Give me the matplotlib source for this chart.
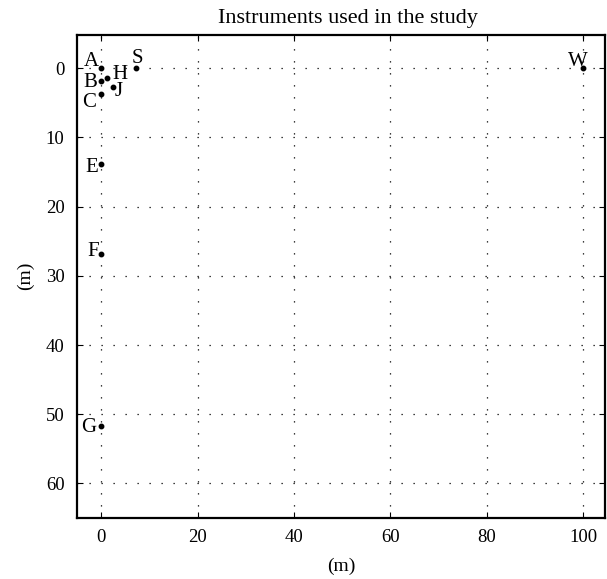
import matplotlib
matplotlib.use("Agg")
import matplotlib.pyplot as plt

plt.rcParams['font.family'] = ['Liberation Serif', 'DejaVu Serif']

names = ['A', 'B', 'C', 'H', 'J', 'S', 'E', 'F', 'G', 'W']
xs = [0, 0, 0, 1.3, 2.4, 7.3, 0, 0, 0, 100]
ys = [0, 1.9, 3.7, 1.45, 2.75, 0, 13.9, 26.8, 51.7, 0]
xticks = [0, 20, 40, 60, 80, 100]
yticks = [0, 10, 20, 30, 40, 50, 60]

# label placement: (dx px, dy px downward, ha)
offs = {
    'A': (-2.5, -8, 'right'),
    'B': (-4, 0, 'right'),
    'C': (-5, 7.5, 'right'),
    'H': (5, -5.5, 'left'),
    'J': (1.5, 3, 'left'),
    'S': (1, -11.5, 'center'),
    'E': (-2.5, 2, 'right'),
    'F': (-2.5, -4, 'right'),
    'G': (-5, 0, 'right'),
    'W': (-5, -8, 'center'),
}

W, H = 607, 579
fig = plt.figure(figsize=(W / 100, H / 100), dpi=100)
ax = fig.add_axes([77 / W, 1 - 518 / H, (605 - 77) / W, (518 - 35) / H])
ax.plot(xs, ys, 'o', color='black', markersize=3.2, linestyle='none', zorder=3)
pt = 0.72
for n, x, y in zip(names, xs, ys):
    dx, dy, ha = offs[n]
    ax.annotate(n, (x, y), xytext=(dx * pt, -(dy + 1.5) * pt),
                textcoords='offset points', ha=ha, va='center', fontsize=15)
ax.set_xlim(-5, 104.5)
ax.set_ylim(65, -4.8)
ax.set_xticks(xticks)
ax.set_yticks(yticks)
ax.grid(True, color='black', linestyle=(0, (1, 8.6)), linewidth=0.9)
ax.tick_params(direction='in', length=4, labelsize=13.5, width=0.8,
               top=True, right=True)
ax.tick_params(axis='x', pad=8)
ax.tick_params(axis='y', pad=9)
for s in ax.spines.values():
    s.set_linewidth(1.6)
fig.text(348 / W, 1 - 19 / H, 'Instruments used in the study',
         fontsize=16, ha='center', va='center')
fig.text(341 / W, 1 - 566 / H, '(m)', fontsize=14, ha='center', va='center')
fig.text(25 / W, 1 - 276 / H, '(m)', fontsize=14, ha='center', va='center',
         rotation=90)
fig.savefig('out.png', dpi=100)
